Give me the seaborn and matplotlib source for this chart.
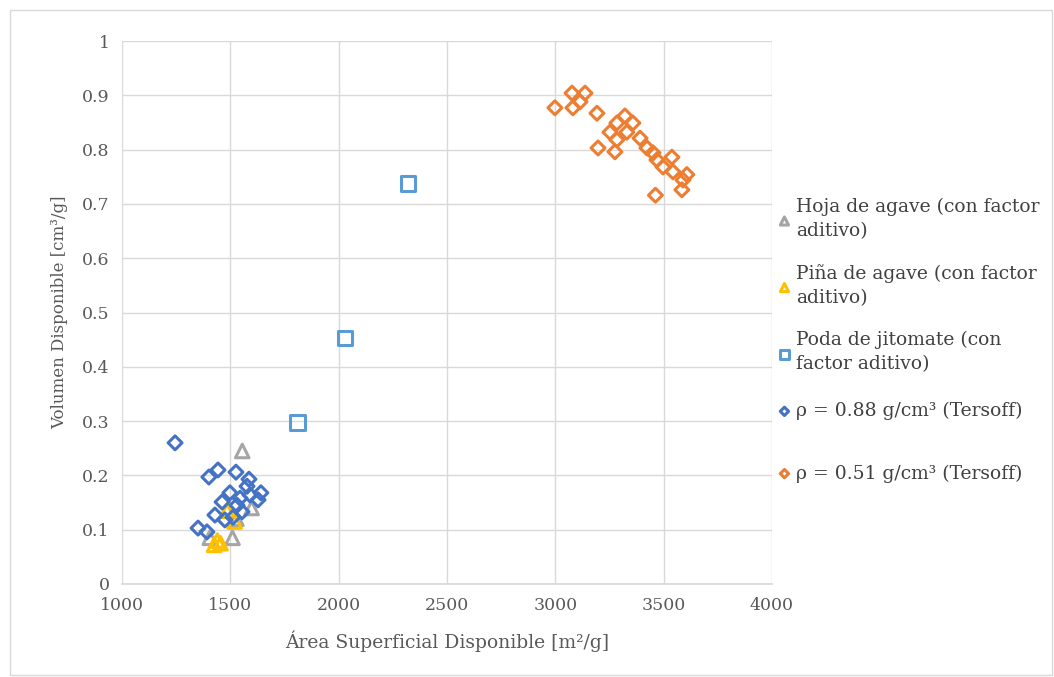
import matplotlib
matplotlib.use("Agg")
import matplotlib.pyplot as plt
import matplotlib.ticker as mticker
from matplotlib.patches import Rectangle
import seaborn as sns
import pandas as pd

# ---- data ----
hoja_x = [1555, 1598, 1510, 1405, 1528]
hoja_y = [0.245, 0.140, 0.085, 0.085, 0.120]

pina_x = [1425, 1455, 1440, 1520, 1485]
pina_y = [0.072, 0.075, 0.080, 0.115, 0.135]

poda_x = [2320, 2029, 1808]
poda_y = [0.738, 0.453, 0.298]

r088_x = [1245, 1401, 1443, 1526, 1586, 1577, 1641, 1628, 1545, 1498, 1462,
          1429, 1554, 1475, 1512, 1351, 1392, 1591, 1531]
r088_y = [0.260, 0.197, 0.210, 0.206, 0.193, 0.180, 0.168, 0.155, 0.158, 0.168,
          0.151, 0.127, 0.133, 0.118, 0.123, 0.103, 0.096, 0.164, 0.145]

r051_x = [2998, 3077, 3137, 3081, 3114, 3192, 3321, 3284, 3358, 3252, 3330,
          3284, 3197, 3275, 3391, 3423, 3451, 3469, 3538, 3497, 3543, 3607,
          3589, 3584, 3462]
r051_y = [0.877, 0.904, 0.904, 0.877, 0.888, 0.867, 0.862, 0.849, 0.849, 0.832,
          0.832, 0.818, 0.803, 0.796, 0.821, 0.803, 0.794, 0.781, 0.786, 0.768,
          0.759, 0.754, 0.744, 0.726, 0.716]

labels = ["Hoja de agave (con factor\naditivo)",
          "Piña de agave (con factor\naditivo)",
          "Poda de jitomate (con\nfactor aditivo)",
          "ρ = 0.88 g/cm³ (Tersoff)",
          "ρ = 0.51 g/cm³ (Tersoff)"]
colors = ["#A5A5A5", "#FFC000", "#5B9BD5", "#4472C4", "#ED7D31"]
markers = ["^", "^", "s", "D", "D"]
sizes = [95, 95, 115, 50, 50]

x_ticks = [1000, 1500, 2000, 2500, 3000, 3500, 4000]
y_ticks = [0, 0.1, 0.2, 0.3, 0.4, 0.5, 0.6, 0.7, 0.8, 0.9, 1.0]

series = [(hoja_x, hoja_y), (pina_x, pina_y), (poda_x, poda_y),
          (r088_x, r088_y), (r051_x, r051_y)]

# ---- plot ----
sns.set_theme(style="white")
plt.rcParams["font.family"] = ["DejaVu Serif"]

fig = plt.figure(figsize=(10.54, 6.77), dpi=100)
ax = fig.add_axes([122/1054, 1-584/677, 650/1054, 543/677])

fig.patches.append(Rectangle((10/1054, 2/677), 1042/1054, 665/677,
                             transform=fig.transFigure, fill=False,
                             edgecolor="#D9D9D9", linewidth=1))

for i in range(5):
    xs, ys = series[i]
    df = pd.DataFrame({"x": xs, "y": ys})
    sns.scatterplot(data=df, x="x", y="y", ax=ax, marker=markers[i], s=sizes[i],
                    color=colors[i], facecolor="none", edgecolor=colors[i],
                    linewidth=2.2, label=labels[i], zorder=3)

ax.set_xlim(1000, 4000)
ax.set_ylim(0, 1)
ax.set_xticks(x_ticks)
ax.set_yticks(y_ticks)
ax.yaxis.set_major_formatter(mticker.FuncFormatter(lambda v, p: f"{v:g}"))
ax.grid(True, color="#D9D9D9", linewidth=1)
ax.set_axisbelow(True)
for s in ["top", "right", "left"]:
    ax.spines[s].set_visible(False)
ax.spines["bottom"].set_color("#D9D9D9")
ax.tick_params(axis="both", colors="#595959", labelsize=12.5, length=0, pad=9)

ax.set_xlabel("Área Superficial Disponible [m²/g]", color="#595959", fontsize=13.5, labelpad=12)
ax.set_ylabel("Volumen Disponible [cm³/g]", color="#595959", fontsize=12, labelpad=10)

handles, labs = ax.get_legend_handles_labels()
common = dict(bbox_transform=fig.transFigure, frameon=False, fontsize=13.5,
              handletextpad=0.15, handlelength=0.9, borderaxespad=0,
              borderpad=0, markerscale=0.6, loc="upper left")
leg1 = ax.legend(handles[:3], labs[:3], bbox_to_anchor=(776/1054, 1-198/677),
                 labelspacing=1.3, **common)
for t in leg1.get_texts():
    t.set_linespacing(1.4)
ax.add_artist(leg1)
leg2 = ax.legend(handles[3:], labs[3:], bbox_to_anchor=(776/1054, 1-402/677),
                 labelspacing=2.35, **common)
for lg in (leg1, leg2):
    for t in lg.get_texts():
        t.set_color("#404040")

fig.savefig("out.png", dpi=100)
